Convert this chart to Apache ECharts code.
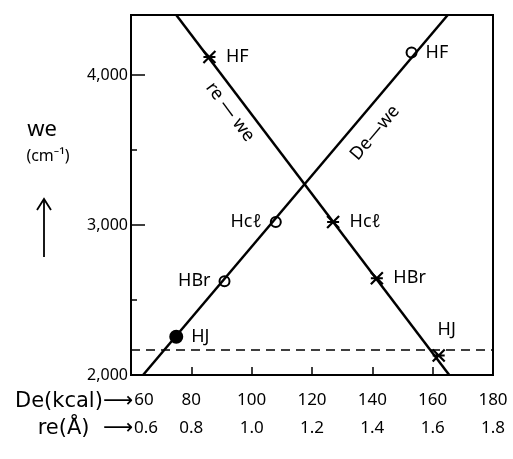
<!DOCTYPE html>
<html>
<head>
<meta charset="utf-8">
<script src="https://cdn.jsdelivr.net/npm/echarts@6/dist/echarts.min.js"></script>
<style>
  html, body { margin: 0; padding: 0; background: #fff; }
  #chart { width: 513px; height: 459px; }
</style>
</head>
<body>
<div id="chart"></div>
<script>
// molecules, in the order they sit along each line
const molecules = ['HJ', 'HBr', 'Hcℓ', 'HF'];

// De (kcal) vs we (cm-1), open circles
const deValues = [75, 91, 108, 153];
const weAtDe = [2255, 2625, 3020, 4150];
const deLine = [[64, 2000], [165, 4400]];

// re (Å) vs we (cm-1), crosses
const reValues = [1.62, 1.415, 1.27, 0.86];
const weAtRe = [2130, 2645, 3020, 4120];
const reLine = [[0.75, 4400], [1.655, 2000]];

const dashedLevel = 2170;

const deTicks = [60, 80, 100, 120, 140, 160, 180];
const reTicks = [0.6, 0.8, 1.0, 1.2, 1.4, 1.6, 1.8];
const weLabels = { 2000: '2,000', 3000: '3,000', 4000: '4,000' };

const font = 'Noto Sans';
const ink = '#000';

// label sides for each point
const deLabelPos = ['right', 'left', 'left', 'right'];
const reLabelPos = ['top', 'right', 'right', 'right'];

const crossPath = 'path://M0,0L10,10M10,0L0,10M0,5L10,5';

const chart = echarts.init(document.getElementById('chart'));

const option = {
  backgroundColor: '#fff',
  animation: false,
  grid: {
    left: 131, right: 20, top: 15, bottom: 84,
    show: true, borderColor: ink, borderWidth: 2
  },
  xAxis: [
    {
      type: 'value', min: 60, max: 180, interval: 20,
      position: 'bottom',
      axisLine: { show: true, lineStyle: { color: ink, width: 2 } },
      axisTick: { show: true, inside: true, length: 8, lineStyle: { color: ink, width: 1.5 } },
      splitLine: { show: false },
      axisLabel: {
        color: ink, fontSize: 17, fontFamily: font, margin: 17,
        formatter: v => deTicks.includes(v) ? (v === 60 ? '{f|60}' : String(v)) : '',
        rich: { f: { fontSize: 17, fontFamily: font, color: ink, padding: [0, 0, 0, 26] } }
      }
    },
    {
      type: 'value', min: 0.6, max: 1.8, interval: 0.2,
      position: 'bottom', offset: 28,
      axisLine: { show: false },
      axisTick: { show: false },
      splitLine: { show: false },
      axisLabel: {
        color: ink, fontSize: 17, fontFamily: font, margin: 17,
        formatter: v => {
          const s = v.toFixed(1);
          return Math.abs(v - 0.6) < 1e-6 ? '{f|' + s + '}' : s;
        },
        rich: { f: { fontSize: 17, fontFamily: font, color: ink, padding: [0, 0, 0, 30] } }
      }
    }
  ],
  yAxis: {
    type: 'value', min: 2000, max: 4400, interval: 1000,
    axisLine: { show: true, lineStyle: { color: ink, width: 2 } },
    axisTick: { show: true, inside: true, length: 14, lineStyle: { color: ink, width: 1.5 } },
    minorTick: { show: true, splitNumber: 2, length: 6, lineStyle: { color: ink, width: 1.5 } },
    splitLine: { show: false },
    axisLabel: {
      color: ink, fontSize: 16, fontFamily: font, margin: 3,
      formatter: v => weLabels[v] || ''
    }
  },
  series: [
    {
      type: 'line', xAxisIndex: 0, data: deLine, symbol: 'none',
      lineStyle: { color: ink, width: 2.5 },
      markLine: {
        silent: true, symbol: 'none', label: { show: false },
        lineStyle: { color: ink, width: 1.5, type: [9, 6] },
        data: [{ yAxis: dashedLevel }]
      }
    },
    {
      type: 'line', xAxisIndex: 1, data: reLine, symbol: 'none',
      lineStyle: { color: ink, width: 2.5 }
    },
    {
      type: 'scatter', xAxisIndex: 0,
      data: deValues.map((d, i) => ({
        value: [d, weAtDe[i]],
        name: molecules[i],
        symbol: i === 0 ? 'circle' : 'emptyCircle',
        symbolSize: i === 0 ? 12 : 10,
        label: { position: deLabelPos[i] }
      })),
      itemStyle: { color: ink, borderColor: ink, borderWidth: 2, opacity: 1 },
      label: {
        show: true, formatter: p => p.name, color: ink,
        fontSize: 18, fontFamily: font, distance: 8
      }
    },
    {
      type: 'scatter', xAxisIndex: 1,
      data: reValues.map((r, i) => ({
        value: [r, weAtRe[i]],
        name: molecules[i],
        label: i === 0 ? { position: 'top', offset: [8, 0] } : { position: reLabelPos[i] }
      })),
      symbol: crossPath, symbolSize: 12,
      itemStyle: { color: 'none', borderColor: ink, borderWidth: 2.2, opacity: 1 },
      label: {
        show: true, formatter: p => p.name, color: ink,
        fontSize: 18, fontFamily: font, distance: 8
      }
    }
  ],
  graphic: [
    {
      type: 'text', x: 230, y: 112, rotation: -0.93,
      style: { text: 're — we', font: '18px "Noto Sans"', fill: ink, align: 'center', verticalAlign: 'middle' }
    },
    {
      type: 'text', x: 375, y: 133, rotation: 0.87,
      style: { text: 'De—we', font: '18px "Noto Sans"', fill: ink, align: 'center', verticalAlign: 'middle' }
    },
    {
      type: 'text', x: 42, y: 130,
      style: { text: 'we', font: '22px "Noto Sans"', fill: ink, align: 'center', verticalAlign: 'middle' }
    },
    {
      type: 'text', x: 48, y: 156,
      style: { text: '(cm⁻¹)', font: '16px "Noto Sans"', fill: ink, align: 'center', verticalAlign: 'middle' }
    },
    {
      type: 'polyline', shape: { points: [[44, 257], [44, 200]] },
      style: { stroke: ink, lineWidth: 1.8, fill: 'none' }
    },
    {
      type: 'polyline', shape: { points: [[37, 210], [44, 199], [51, 210]] },
      style: { stroke: ink, lineWidth: 1.8, fill: 'none' }
    },
    {
      type: 'text', x: 133, y: 402,
      style: { text: 'De(kcal)⟶', font: '21px "DejaVu Sans"', fill: ink, align: 'right', verticalAlign: 'middle' }
    },
    {
      type: 'text', x: 133, y: 429,
      style: { text: 're(Å)  ⟶', font: '21px "DejaVu Sans"', fill: ink, align: 'right', verticalAlign: 'middle' }
    }
  ]
};

chart.setOption(option);
</script>
</body>
</html>
